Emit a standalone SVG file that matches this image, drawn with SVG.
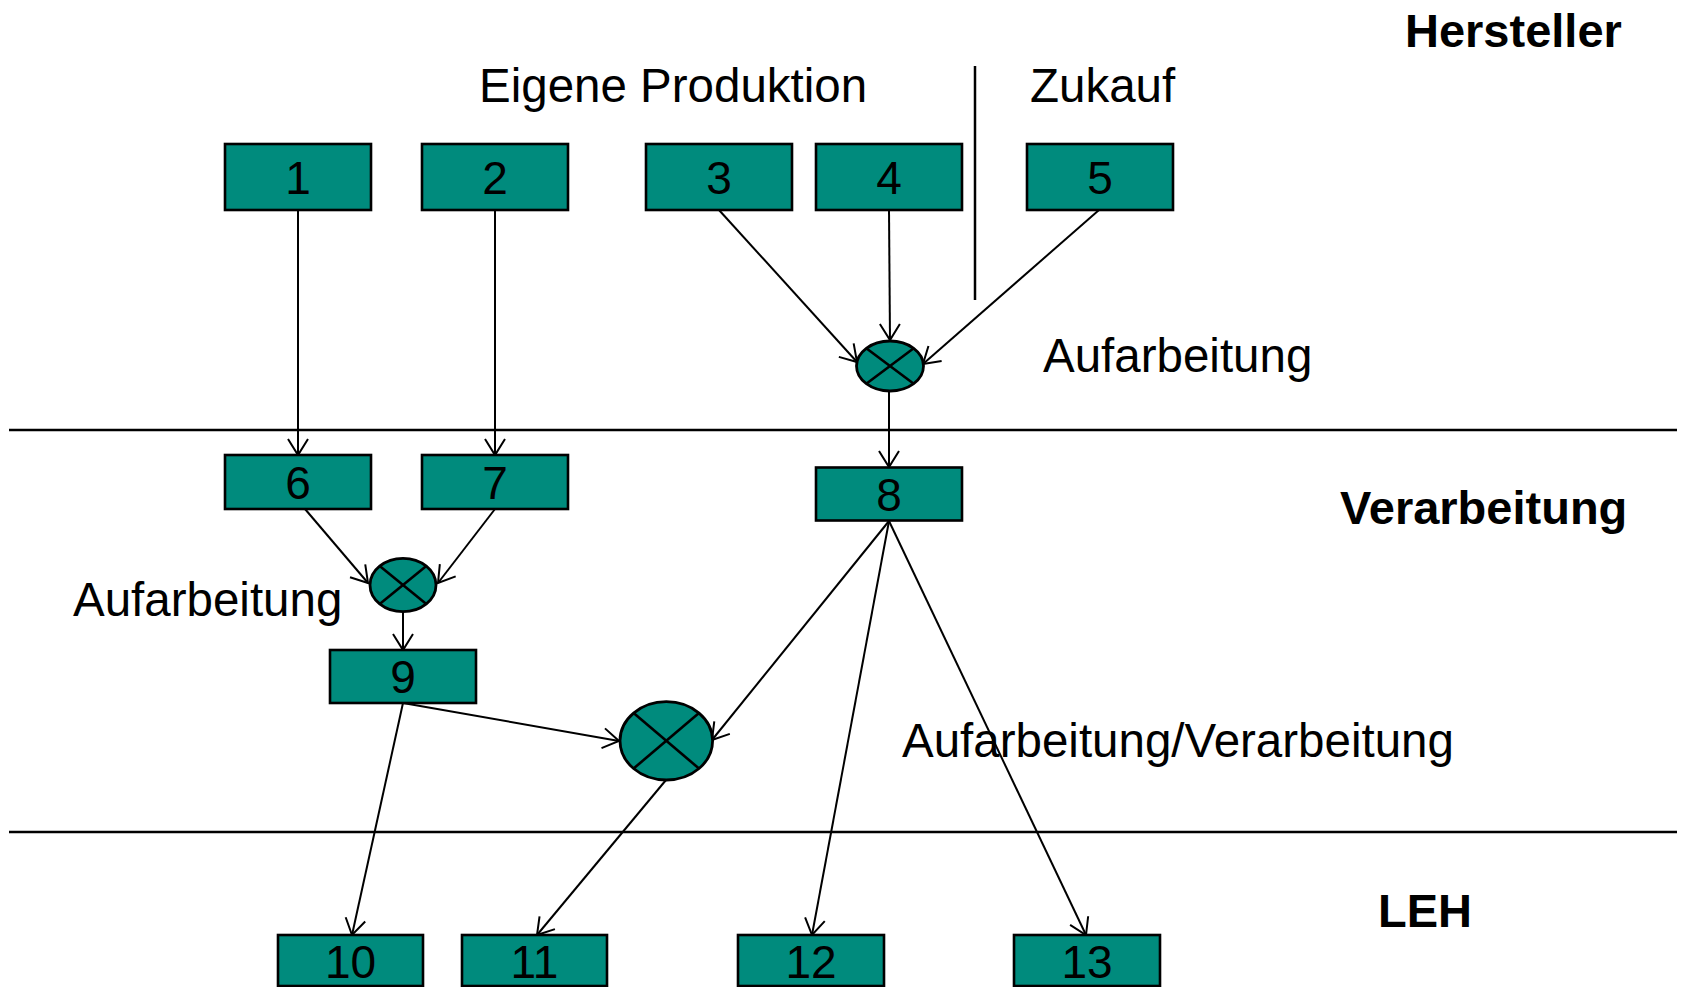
<svg xmlns="http://www.w3.org/2000/svg" width="1683" height="987" viewBox="0 0 1683 987">
<style>
.box{fill:#008B7D;stroke:#000;stroke-width:2.6}
.num{font-family:"Liberation Sans",Arial,sans-serif;font-size:46px;text-anchor:middle;fill:#000}
.lbl{font-family:"Liberation Sans",Arial,sans-serif;font-size:47.5px;fill:#000}
.hd{font-family:"Liberation Sans",Arial,sans-serif;font-size:47px;font-weight:bold;fill:#000}
.op{fill:#008B7D;stroke:#000;stroke-width:2.8}
.x{stroke:#000;stroke-width:2.6}
.sep{stroke:#000;stroke-width:2.5;fill:none}
.con{stroke:#000;stroke-width:2;fill:none;marker-end:url(#arr)}
</style>
<defs>
<marker id="arr" markerUnits="userSpaceOnUse" markerWidth="40" markerHeight="40" viewBox="-20 -20 40 40" refX="0" refY="0" orient="auto">
<path d="M-16,-10 L0,0 L-16,10" fill="none" stroke="#000" stroke-width="2"/>
</marker>
</defs>
<rect width="1683" height="987" fill="#fff"/>
<g id="separators">
<line class="sep" x1="975" y1="66" x2="975" y2="300"/>
<line class="sep" x1="9" y1="430" x2="1677" y2="430"/>
<line class="sep" x1="9" y1="832" x2="1677" y2="832"/>
</g>
<g id="labels">
<text class="hd" x="1405" y="47">Hersteller</text>
<text class="lbl" x="479" y="102">Eigene Produktion</text>
<text class="lbl" x="1030" y="102">Zukauf</text>
<text class="lbl" x="1043" y="372">Aufarbeitung</text>
<text class="hd" x="1340" y="524">Verarbeitung</text>
<text class="lbl" x="73" y="615.5">Aufarbeitung</text>
<text class="lbl" x="902" y="757">Aufarbeitung/Verarbeitung</text>
<text class="hd" x="1378" y="927">LEH</text>
</g>
<g id="connectors">
<line class="con" x1="298" y1="210" x2="298" y2="455"/>
<line class="con" x1="495" y1="210" x2="495" y2="455"/>
<line class="con" x1="719" y1="210" x2="857" y2="362"/>
<line class="con" x1="889" y1="210" x2="890" y2="340"/>
<line class="con" x1="1099" y1="210" x2="923" y2="364"/>
<line class="con" x1="889" y1="391" x2="889" y2="467"/>
<line class="con" x1="305" y1="509" x2="368" y2="583"/>
<line class="con" x1="495" y1="509" x2="438" y2="583"/>
<line class="con" x1="403" y1="612" x2="403" y2="650"/>
<line class="con" x1="403" y1="703" x2="619" y2="741"/>
<line class="con" x1="889" y1="521" x2="712" y2="740"/>
<line class="con" x1="403" y1="703" x2="352" y2="935"/>
<line class="con" x1="666" y1="780" x2="537" y2="935"/>
<line class="con" x1="889" y1="521" x2="812" y2="935"/>
<line class="con" x1="889" y1="521" x2="1086" y2="935"/>
</g>
<g id="n1"><rect class="box" x="225" y="144" width="146" height="66"/><text class="num" x="298" y="193.5">1</text></g>
<g id="n2"><rect class="box" x="422" y="144" width="146" height="66"/><text class="num" x="495" y="193.5">2</text></g>
<g id="n3"><rect class="box" x="646" y="144" width="146" height="66"/><text class="num" x="719" y="193.5">3</text></g>
<g id="n4"><rect class="box" x="816" y="144" width="146" height="66"/><text class="num" x="889" y="193.5">4</text></g>
<g id="n5"><rect class="box" x="1027" y="144" width="146" height="66"/><text class="num" x="1100" y="193.5">5</text></g>
<g id="op1"><ellipse class="op" cx="890" cy="366" rx="33.5" ry="25"/><line class="x" x1="866.3" y1="348.3" x2="913.7" y2="383.7"/><line class="x" x1="913.7" y1="348.3" x2="866.3" y2="383.7"/></g>
<g id="n6"><rect class="box" x="225" y="455" width="146" height="54"/><text class="num" x="298" y="498.5">6</text></g>
<g id="n7"><rect class="box" x="422" y="455" width="146" height="54"/><text class="num" x="495" y="498.5">7</text></g>
<g id="n8"><rect class="box" x="816" y="467.5" width="146" height="53"/><text class="num" x="889" y="510.5">8</text></g>
<g id="op2"><ellipse class="op" cx="403" cy="585" rx="33" ry="26.7"/><line class="x" x1="379.7" y1="566.1" x2="426.3" y2="603.9"/><line class="x" x1="426.3" y1="566.1" x2="379.7" y2="603.9"/></g>
<g id="n9"><rect class="box" x="330" y="650" width="146" height="53"/><text class="num" x="403" y="693">9</text></g>
<g id="op3"><ellipse class="op" cx="666.3" cy="740.8" rx="46.3" ry="39.2"/><line class="x" x1="633.6" y1="713.1" x2="699" y2="768.5"/><line class="x" x1="699" y1="713.1" x2="633.6" y2="768.5"/></g>
<g id="n10"><rect class="box" x="278" y="935" width="145" height="51"/><text class="num" x="350.5" y="977.5">10</text></g>
<g id="n11"><rect class="box" x="462" y="935" width="145" height="51"/><text class="num" x="534.5" y="977.5">11</text></g>
<g id="n12"><rect class="box" x="738" y="935" width="146" height="51"/><text class="num" x="811" y="977.5">12</text></g>
<g id="n13"><rect class="box" x="1014" y="935" width="146" height="51"/><text class="num" x="1087" y="977.5">13</text></g>
</svg>
